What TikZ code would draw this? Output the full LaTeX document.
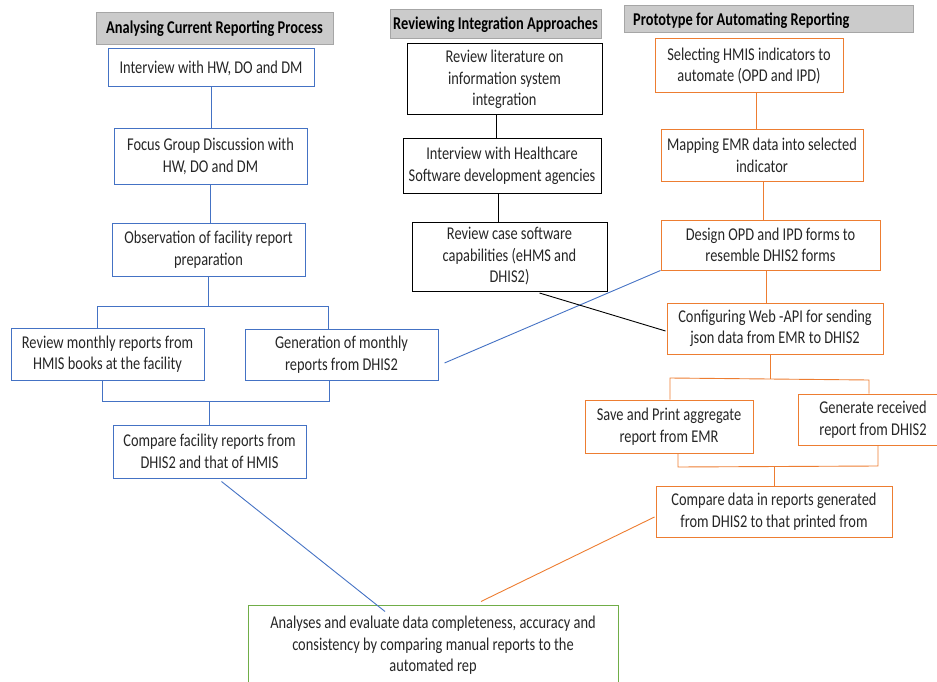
\documentclass[tikz,border=0pt]{standalone}
\usepackage{fontspec}
\setmainfont[FakeStretch=0.8]{Carlito}
\usetikzlibrary{calc}
\definecolor{myblue}{HTML}{4472C4}
\definecolor{myorange}{HTML}{ED7D31}
\definecolor{mygreen}{HTML}{70AD47}
\definecolor{hdrf}{HTML}{CBCBCB}
\definecolor{hdrb}{HTML}{A6A6A6}
\tikzset{
  basebox/.style={line width=1pt, align=center, inner sep=0pt, text=black!85,
    font=\fontsize{18}{21.5}\selectfont},
  hdr/.style={basebox, draw=hdrb, fill=hdrf, font=\fontsize{18}{21.5}\selectfont\bfseries, text=black},
  bbox/.style={basebox, draw=myblue},
  kbox/.style={basebox, draw=black},
  obox/.style={basebox, draw=myorange},
  gbox/.style={basebox, draw=mygreen},
  bline/.style={draw=myblue, line width=0.9pt},
  kline/.style={draw=black, line width=0.9pt},
  oline/.style={draw=myorange, line width=0.9pt},
}
\begin{document}
\begin{tikzpicture}[x=1pt,y=-1pt]
\useasboundingbox (0,0) rectangle (937,682);
% headers
\node[hdr, minimum width=237, minimum height=32] (H1) at (214.5,29) {Analysing Current Reporting Process};
\node[hdr, minimum width=211, minimum height=29] (H2) at (495.5,24.5) {Reviewing Integration Approaches};
\node[hdr, minimum width=289, minimum height=27] (H3) at (768.5,19.5) {};
\node[anchor=west, inner sep=0pt, font=\fontsize{18}{21.5}\selectfont\bfseries] (H3t) at (633,20.5) {Prototype for Automating Reporting};
% blue column
\node[bbox, minimum width=206, minimum height=38] (B1) at (211,68) {Interview with HW, DO and DM};
\node[bbox, minimum width=193, minimum height=55] (B2) at (210.5,156.5) {Focus Group Discussion with\\HW, DO and DM};
\node[bbox, minimum width=193, minimum height=53] (B3) at (208.5,249.5) {Observation of facility report\\preparation};
\node[bbox, minimum width=193, minimum height=52] (B4) at (107.5,354) {Review monthly reports from\\HMIS books at the facility};
\node[bbox, minimum width=193, minimum height=51] (B5) at (341.5,354.5) {Generation of monthly\\reports from DHIS2};
\node[bbox, minimum width=193, minimum height=53] (B6) at (209.5,451.5) {Compare facility reports from\\DHIS2 and that of HMIS};
% black column
\node[kbox, minimum width=195, minimum height=71] (K1) at (504.5,79.5) {Review literature on\\information system\\integration};
\node[kbox, minimum width=198, minimum height=54] (K2) at (502,166) {Interview with Healthcare\\Software development agencies};
\node[kbox, minimum width=195, minimum height=69] (K3) at (509.5,256.5) {Review case software\\capabilities (eHMS and\\DHIS2)};
% orange column
\node[obox, minimum width=188, minimum height=54] (O1) at (749,66) {Selecting HMIS indicators to\\automate (OPD and IPD)};
\node[obox, minimum width=202, minimum height=51] (O2) at (762,155.5) {Mapping EMR data into selected\\indicator};
\node[obox, minimum width=219, minimum height=50] (O3) at (770.5,245) {Design OPD and IPD forms to\\resemble DHIS2 forms};
\node[obox, minimum width=216, minimum height=51] (O4) at (775,328.5) {Configuring Web -API for sending\\json data from EMR to DHIS2};
\node[obox, minimum width=168, minimum height=53] (O5) at (669,426.5) {Save and Print aggregate\\report from EMR};
\node[obox, minimum width=150, minimum height=51] (O6) at (873,419.5) {Generate received\\report from DHIS2};
\node[obox, minimum width=236, minimum height=51] (O7) at (774,511.5) {Compare data in reports generated\\from DHIS2 to that printed from};
% green
\node[gbox, minimum width=370, minimum height=81] (G) at (433,645.5) {Analyses and evaluate data completeness, accuracy and\\consistency by comparing manual reports to the\\automated rep};
% blue connectors
\coordinate (j1l) at (97,306);
\coordinate (j1r) at (328,306);
\coordinate (j2l) at (102,401);
\coordinate (j2r) at (329,401);
\draw[bline] (B1.south) -- (B1.south |- B2.north);
\draw[bline] (B2.south) -- (B2.south |- B3.north);
\draw[bline] (B3.south) -- (B3.south |- j1l);
\draw[bline] (j1l |- B4.north) -- (j1l) -- (j1r) -- (j1r |- B5.north);
\draw[bline] (j2l |- B4.south) -- (j2l) -- (j2r) -- (j2r |- B5.south);
\draw[bline] (B6.north |- j2l) -- (B6.north);
\draw[bline] ($(B6.south)+(12,3)$) -- ($(G.north)+(-48,7)$);
\draw[bline] ($(B5.east)+(6,8.5)$) -- (O3.south west);
% black connectors
\draw[kline] (K1.south -| 496,0) -- (K2.north -| 496,0);
\draw[kline] (K2.south -| 498,0) -- (K3.north -| 498,0);
\draw[kline] ($(K3.south)+(30,1.5)$) -- ($(O4.west)+(-1,2.5)$);
% orange connectors
\coordinate (j3l) at (670,378);
\coordinate (j3r) at (869,380);
\coordinate (j4l) at (678,467);
\coordinate (j4r) at (878,466);
\draw[oline] (O1.south -| 756,0) -- (O2.north -| 756,0);
\draw[oline] (O2.south -| 763,0) -- (O3.north -| 763,0);
\draw[oline] (O3.south -| 766,0) -- (O4.north -| 766,0);
\draw[oline] (O4.south -| 770,0) -- (770,379);
\draw[oline] (j3l |- O5.north) -- (j3l) -- (j3r) -- (j3r |- O6.north);
\draw[oline] (j4l |- O5.south) -- (j4l) -- (j4r) -- (j4r |- O6.south);
\draw[oline] (O7.north |- j4l) -- (O7.north);
\draw[oline] ($(O7.west)+(-1,5.5)$) -- ($(G.north)+(48,-3)$);
\end{tikzpicture}
\end{document}
